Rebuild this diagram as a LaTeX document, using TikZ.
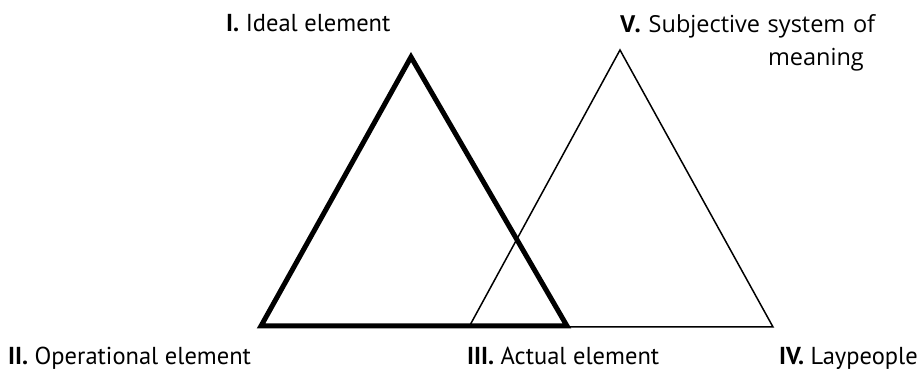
\documentclass[tikz,border=0pt]{standalone}
\usepackage{fontspec}
\setmainfont{PT Sans}
\newfontfamily\widefont{Open Sans}

\begin{document}
\begin{tikzpicture}[
  x=1pt, y=1pt,
  lbl/.style={inner sep=0pt, anchor=base west, font=\fontsize{24.5}{29}\selectfont},
  wide/.style={lbl, font=\widefont\fontsize{23.5}{29}\selectfont},
  heavy/.style={line width=5pt, line join=miter},
  light/.style={line width=1.5pt, line join=miter}
]
  \useasboundingbox (0,0) rectangle (921,371);
  % vertices of the two triangles
  \coordinate (ideal)  at (411,314);
  \coordinate (oper)   at (261,45);
  \coordinate (actual) at (567,45);
  \coordinate (subj)   at (620,321);
  \coordinate (lay)    at (773,44);
  \coordinate (mid)    at (469,44);
  \draw[light] (mid) -- (subj) -- (lay) -- cycle;
  \draw[heavy] (oper) -- (ideal) -- (actual) -- cycle;
  % labels
  \node[lbl] (l1) at (226,339) {\textbf{I.} Ideal element};
  \node[wide] (l5) at (620,338) {\makebox[255pt][s]{\textbf{V.} Subjective system of}};
  \node[wide, anchor=base east] (l5b) at (864,305) {meaning};
  \node[lbl] (l2) at (8,6) {\textbf{II.} Operational element};
  \node[lbl] (l3) at (467,6) {\textbf{III.} Actual element};
  \node[lbl, anchor=base east] (l4) at (918,6) {\textbf{IV.} Laypeople};
\end{tikzpicture}
\end{document}
